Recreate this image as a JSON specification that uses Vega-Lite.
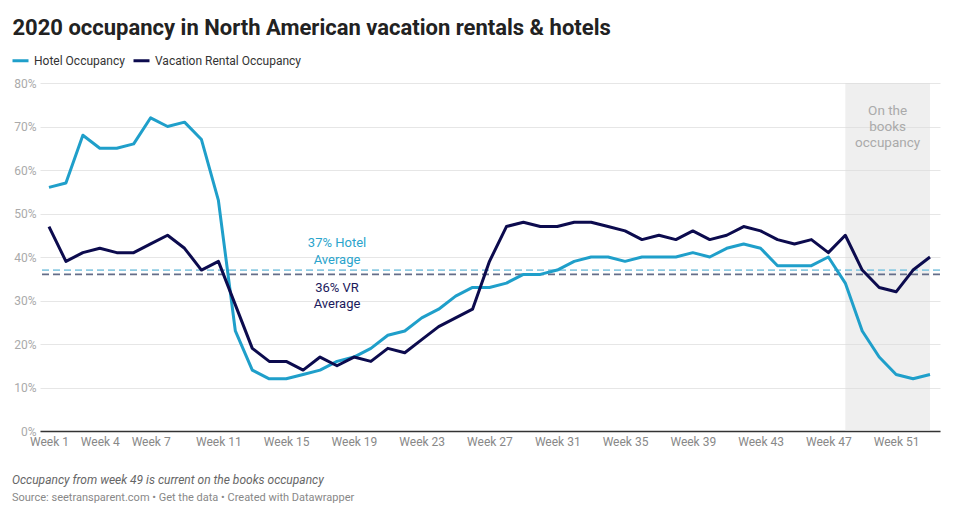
{
  "$schema": "https://vega.github.io/schema/vega-lite/v6.json",
  "autosize": {"type": "none"},
  "width": 900,
  "height": 348,
  "padding": {"left": 40, "top": 83, "right": 17, "bottom": 93},
  "background": "white",
  "config": {
    "view": {"stroke": null},
    "font": "Roboto",
    "text": {"font": "Roboto"}
  },
  "title": {
    "text": "Occupancy from week 49 is current on the books occupancy",
    "subtitle": "Source: seetransparent.com • Get the data • Created with Datawrapper",
    "orient": "bottom",
    "anchor": "start",
    "frame": "group",
    "dx": -28,
    "offset": 28,
    "font": "Roboto",
    "fontSize": 12,
    "fontStyle": "italic",
    "fontWeight": "normal",
    "color": "#666666",
    "subtitleFont": "Roboto",
    "subtitleFontSize": 11,
    "subtitleColor": "#888888",
    "subtitlePadding": 5
  },
  "layer": [
    {
      "data": {"values": [{"x": 48, "x2": 53, "y": 0, "y2": 80}]},
      "mark": {"type": "rect", "fill": "#dcdcdc", "opacity": 0.45},
      "encoding": {
        "x": {
          "field": "x",
          "type": "quantitative",
          "scale": {"domain": [0.47, 53.59], "nice": false, "zero": false},
          "axis": {
            "values": [1, 4, 7, 11, 15, 19, 23, 27, 31, 35, 39, 43, 47, 51],
            "labelExpr": "'Week ' + datum.value",
            "grid": false,
            "ticks": false,
            "domain": true,
            "domainColor": "#333333",
            "domainWidth": 1.5,
            "labelPadding": 5,
            "labelFont": "Roboto",
            "labelFontSize": 12,
            "labelColor": "#888888",
            "labelFlush": false,
            "labelOverlap": false,
            "title": null
          }
        },
        "x2": {"field": "x2"},
        "y": {
          "field": "y",
          "type": "quantitative",
          "scale": {"domain": [0, 80], "nice": false},
          "axis": {
            "values": [0, 10, 20, 30, 40, 50, 60, 70, 80],
            "labelExpr": "datum.value + '%'",
            "grid": true,
            "gridColor": "#e6e6e6",
            "domain": false,
            "ticks": false,
            "labelPadding": 4,
            "labelFont": "Roboto",
            "labelFontSize": 12,
            "labelColor": "#aaaaaa",
            "title": "2020 occupancy in North American vacation rentals & hotels",
            "titleAngle": 0,
            "titleX": -28,
            "titleY": -49,
            "titleAlign": "left",
            "titleBaseline": "alphabetic",
            "titleFont": "Roboto",
            "titleFontSize": 22,
            "titleFontWeight": "bold",
            "titleColor": "#222222",
            "titleLimit": 1000
          }
        },
        "y2": {"field": "y2"}
      }
    },
    {
      "data": {"values": [
        {"x": 50.5, "y": 73.6, "t": "On the"},
        {"x": 50.5, "y": 69.9, "t": "books"},
        {"x": 50.5, "y": 66.2, "t": "occupancy"}
      ]},
      "mark": {"type": "text", "fontSize": 13.5, "color": "#aaaaaa", "align": "center", "baseline": "middle"},
      "encoding": {
        "x": {"field": "x", "type": "quantitative"},
        "y": {"field": "y", "type": "quantitative"},
        "text": {"field": "t"}
      }
    },
    {
      "data": {"values": [{"y": 37}]},
      "mark": {"type": "rule", "stroke": "#8ccae2", "strokeWidth": 1.8, "strokeDash": [7, 4]},
      "encoding": {"y": {"field": "y", "type": "quantitative"}}
    },
    {
      "data": {"values": [{"y": 36}]},
      "mark": {"type": "rule", "stroke": "#646d88", "strokeWidth": 1.8, "strokeDash": [7, 4]},
      "encoding": {"y": {"field": "y", "type": "quantitative"}}
    },
    {
      "data": {"values": [
        {"x": 18, "y": 43.2, "t": "37% Hotel"},
        {"x": 18, "y": 39.3, "t": "Average"}
      ]},
      "mark": {"type": "text", "fontSize": 13, "color": "#2aa4cc", "align": "center", "baseline": "middle"},
      "encoding": {
        "x": {"field": "x", "type": "quantitative"},
        "y": {"field": "y", "type": "quantitative"},
        "text": {"field": "t"}
      }
    },
    {
      "data": {"values": [
        {"x": 18, "y": 32.9, "t": "36% VR"},
        {"x": 18, "y": 29.2, "t": "Average"}
      ]},
      "mark": {"type": "text", "fontSize": 13, "color": "#1b1a5c", "align": "center", "baseline": "middle"},
      "encoding": {
        "x": {"field": "x", "type": "quantitative"},
        "y": {"field": "y", "type": "quantitative"},
        "text": {"field": "t"}
      }
    },
    {
      "data": {"values": [
        {"x": 1, "Hotel Occupancy": 56, "Vacation Rental Occupancy": 47},
        {"x": 2, "Hotel Occupancy": 57, "Vacation Rental Occupancy": 39},
        {"x": 3, "Hotel Occupancy": 68, "Vacation Rental Occupancy": 41},
        {"x": 4, "Hotel Occupancy": 65, "Vacation Rental Occupancy": 42},
        {"x": 5, "Hotel Occupancy": 65, "Vacation Rental Occupancy": 41},
        {"x": 6, "Hotel Occupancy": 66, "Vacation Rental Occupancy": 41},
        {"x": 7, "Hotel Occupancy": 72, "Vacation Rental Occupancy": 43},
        {"x": 8, "Hotel Occupancy": 70, "Vacation Rental Occupancy": 45},
        {"x": 9, "Hotel Occupancy": 71, "Vacation Rental Occupancy": 42},
        {"x": 10, "Hotel Occupancy": 67, "Vacation Rental Occupancy": 37},
        {"x": 11, "Hotel Occupancy": 53, "Vacation Rental Occupancy": 39},
        {"x": 12, "Hotel Occupancy": 23, "Vacation Rental Occupancy": 29},
        {"x": 13, "Hotel Occupancy": 14, "Vacation Rental Occupancy": 19},
        {"x": 14, "Hotel Occupancy": 12, "Vacation Rental Occupancy": 16},
        {"x": 15, "Hotel Occupancy": 12, "Vacation Rental Occupancy": 16},
        {"x": 16, "Hotel Occupancy": 13, "Vacation Rental Occupancy": 14},
        {"x": 17, "Hotel Occupancy": 14, "Vacation Rental Occupancy": 17},
        {"x": 18, "Hotel Occupancy": 16, "Vacation Rental Occupancy": 15},
        {"x": 19, "Hotel Occupancy": 17, "Vacation Rental Occupancy": 17},
        {"x": 20, "Hotel Occupancy": 19, "Vacation Rental Occupancy": 16},
        {"x": 21, "Hotel Occupancy": 22, "Vacation Rental Occupancy": 19},
        {"x": 22, "Hotel Occupancy": 23, "Vacation Rental Occupancy": 18},
        {"x": 23, "Hotel Occupancy": 26, "Vacation Rental Occupancy": 21},
        {"x": 24, "Hotel Occupancy": 28, "Vacation Rental Occupancy": 24},
        {"x": 25, "Hotel Occupancy": 31, "Vacation Rental Occupancy": 26},
        {"x": 26, "Hotel Occupancy": 33, "Vacation Rental Occupancy": 28},
        {"x": 27, "Hotel Occupancy": 33, "Vacation Rental Occupancy": 39},
        {"x": 28, "Hotel Occupancy": 34, "Vacation Rental Occupancy": 47},
        {"x": 29, "Hotel Occupancy": 36, "Vacation Rental Occupancy": 48},
        {"x": 30, "Hotel Occupancy": 36, "Vacation Rental Occupancy": 47},
        {"x": 31, "Hotel Occupancy": 37, "Vacation Rental Occupancy": 47},
        {"x": 32, "Hotel Occupancy": 39, "Vacation Rental Occupancy": 48},
        {"x": 33, "Hotel Occupancy": 40, "Vacation Rental Occupancy": 48},
        {"x": 34, "Hotel Occupancy": 40, "Vacation Rental Occupancy": 47},
        {"x": 35, "Hotel Occupancy": 39, "Vacation Rental Occupancy": 46},
        {"x": 36, "Hotel Occupancy": 40, "Vacation Rental Occupancy": 44},
        {"x": 37, "Hotel Occupancy": 40, "Vacation Rental Occupancy": 45},
        {"x": 38, "Hotel Occupancy": 40, "Vacation Rental Occupancy": 44},
        {"x": 39, "Hotel Occupancy": 41, "Vacation Rental Occupancy": 46},
        {"x": 40, "Hotel Occupancy": 40, "Vacation Rental Occupancy": 44},
        {"x": 41, "Hotel Occupancy": 42, "Vacation Rental Occupancy": 45},
        {"x": 42, "Hotel Occupancy": 43, "Vacation Rental Occupancy": 47},
        {"x": 43, "Hotel Occupancy": 42, "Vacation Rental Occupancy": 46},
        {"x": 44, "Hotel Occupancy": 38, "Vacation Rental Occupancy": 44},
        {"x": 45, "Hotel Occupancy": 38, "Vacation Rental Occupancy": 43},
        {"x": 46, "Hotel Occupancy": 38, "Vacation Rental Occupancy": 44},
        {"x": 47, "Hotel Occupancy": 40, "Vacation Rental Occupancy": 41},
        {"x": 48, "Hotel Occupancy": 34, "Vacation Rental Occupancy": 45},
        {"x": 49, "Hotel Occupancy": 23, "Vacation Rental Occupancy": 37},
        {"x": 50, "Hotel Occupancy": 17, "Vacation Rental Occupancy": 33},
        {"x": 51, "Hotel Occupancy": 13, "Vacation Rental Occupancy": 32},
        {"x": 52, "Hotel Occupancy": 12, "Vacation Rental Occupancy": 37},
        {"x": 53, "Hotel Occupancy": 13, "Vacation Rental Occupancy": 40}
      ]},
      "transform": [{"fold": ["Hotel Occupancy", "Vacation Rental Occupancy"], "as": ["series", "y"]}],
      "mark": {"type": "line", "strokeWidth": 3, "strokeJoin": "round"},
      "encoding": {
        "x": {"field": "x", "type": "quantitative"},
        "y": {"field": "y", "type": "quantitative"},
        "color": {
          "field": "series",
          "type": "nominal",
          "scale": {"domain": ["Hotel Occupancy", "Vacation Rental Occupancy"], "range": ["#1f9fca", "#0c0b4e"]},
          "legend": {
            "orient": "none",
            "legendX": -29,
            "legendY": -32,
            "direction": "horizontal",
            "title": null,
            "symbolType": "stroke",
            "symbolStrokeWidth": 3,
            "symbolSize": 256,
            "labelFont": "Roboto",
            "labelFontSize": 12,
            "labelColor": "#333333",
            "labelOffset": 4,
            "columnPadding": 2
          }
        }
      }
    }
  ]
}
